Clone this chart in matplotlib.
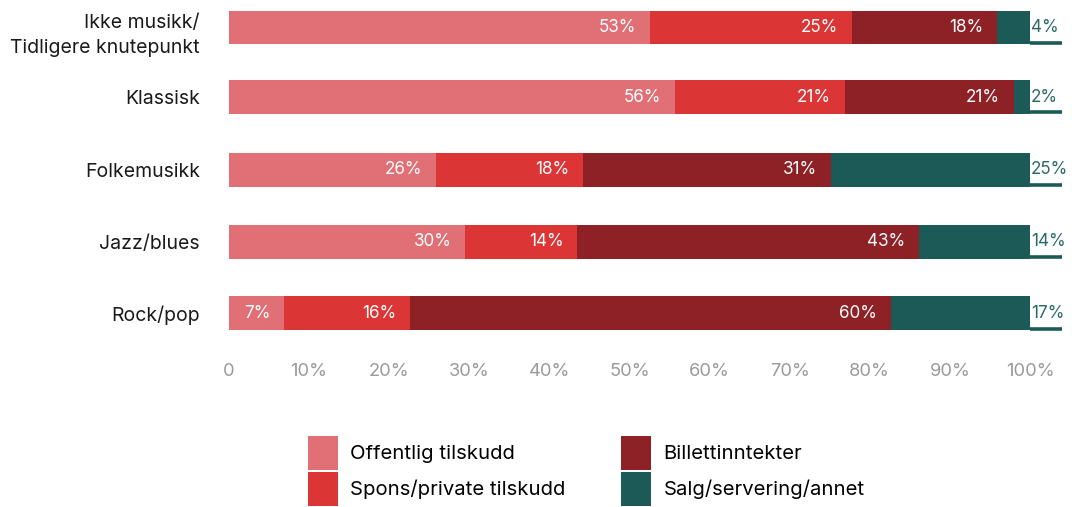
import matplotlib
matplotlib.use("Agg")
import matplotlib.pyplot as plt
import matplotlib.transforms as mtransforms
import numpy as np

plt.rcParams['font.family'] = ['Inter', 'DejaVu Sans']

categories = ["Ikke musikk/\nTidligere knutepunkt", "Klassisk", "Folkemusikk", "Jazz/blues", "Rock/pop"]
series_names = ["Offentlig tilskudd", "Spons/private tilskudd", "Billettinntekter", "Salg/servering/annet"]
offentlig = [52.6, 55.7, 25.8, 29.5, 6.9]
spons = [25.2, 21.2, 18.4, 14.0, 15.7]
billett = [18.1, 21.1, 31.0, 42.7, 60.0]
salg = [4.1, 2.0, 24.8, 13.8, 17.4]
labels_offentlig = ["53%", "56%", "26%", "30%", "7%"]
labels_spons = ["25%", "21%", "18%", "14%", "16%"]
labels_billett = ["18%", "21%", "31%", "43%", "60%"]
labels_salg = ["4%", "2%", "25%", "14%", "17%"]
xticks = [0, 10, 20, 30, 40, 50, 60, 70, 80, 90, 100]
xtick_labels = ["0", "10%", "20%", "30%", "40%", "50%", "60%", "70%", "80%", "90%", "100%"]

colors = ["#E07076", "#DB3535", "#8E2126", "#1C5A58"]

W, H = 1072, 507
fig = plt.figure(figsize=(W / 100, H / 100), dpi=100)
ax_top_px, ax_bot_px = 0, 340
ax = fig.add_axes([229 / W, 1 - ax_bot_px / H, (1030 - 229) / W, (ax_bot_px - ax_top_px) / H])

row_px = [27.5, 97, 170, 242, 313.5]
unit = 71.5
y = np.array([(p - row_px[0]) / unit for p in row_px])
bar_h = 34 / unit

series = [offentlig, spons, billett, salg]
labels = [labels_offentlig, labels_spons, labels_billett, labels_salg]
left = np.zeros(len(categories))
for i, (vals, name, col) in enumerate(zip(series, series_names, colors)):
    vals = np.array(vals)
    ax.barh(y, vals, left=left, height=bar_h, color=col, label=name, linewidth=0)
    for j in range(len(categories)):
        end = left[j] + vals[j]
        if i < 3:
            ax.annotate(labels[i][j], xy=(end, y[j]), xytext=(-10, 0), textcoords="offset points",
                        ha="right", va="center", color="white", fontsize=12.3)
        else:
            ax.annotate(labels[i][j], xy=(end, y[j]), xytext=(0.5, 0), textcoords="offset points",
                        ha="left", va="center", color="#2B6A67", fontsize=12.3, annotation_clip=False)
            ax.hlines(y[j] + bar_h / 2 - 0.025, end, 104, color=col, linewidth=2.6, clip_on=False)
    left = left + vals

ax.set_xlim(0, 100)
ax.set_ylim((ax_bot_px - row_px[0]) / unit, (ax_top_px - row_px[0]) / unit)
ax.set_yticks(y)
ax.set_yticklabels(categories, fontsize=14, color="#1a1a1a", linespacing=1.45)
ax.set_xticks(xticks)
ax.set_xticklabels(xtick_labels, fontsize=13.2, color="#9a9a9a")
ax.tick_params(axis="both", length=0)
ax.tick_params(axis="y", pad=21)
ax.tick_params(axis="x", pad=16.5)
for s in ax.spines.values():
    s.set_visible(False)

first = ax.get_yticklabels()[0]
first.set_transform(first.get_transform() + mtransforms.ScaledTranslation(0, -3 / 100, fig.dpi_scale_trans))

handles, lbls = ax.get_legend_handles_labels()
fig.legend(handles, lbls, ncol=2,
           loc="upper left", bbox_to_anchor=(308 / W, 1 - 436 / H),
           frameon=False, fontsize=14.6, handlelength=1.48, handleheight=2.2,
           handletextpad=0.6, labelspacing=0.1, columnspacing=2.75, borderpad=0,
           borderaxespad=0)

fig.savefig("out.png", dpi=100)
